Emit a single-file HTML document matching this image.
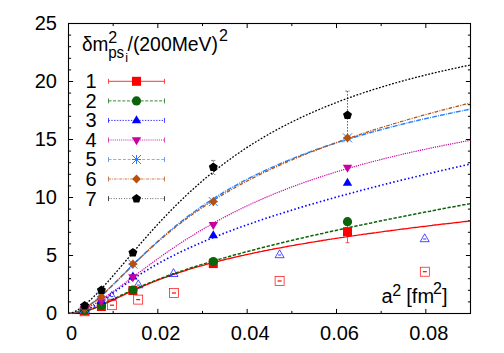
<!DOCTYPE html>
<html><head><meta charset="utf-8"><title>plot</title>
<style>
html,body{margin:0;padding:0;background:#fff;}
body{width:504px;height:353px;overflow:hidden;}
svg text{font-family:"Liberation Sans",sans-serif;fill:#000;}
.t{font-size:20px;}
.s{font-size:16px;}
.ss{font-size:12.5px;}
</style></head><body>
<svg width="504" height="353" viewBox="0 0 504 353" style="display:block">
<rect width="504" height="353" fill="#fff"/>
<defs><clipPath id="cp"><rect x="68.5" y="23.5" width="402" height="290"/></clipPath></defs>
<path d="M68.5 313.5h4.6M470.5 313.5h-4.6M68.5 301.9h2.6M470.5 301.9h-2.6M68.5 290.3h2.6M470.5 290.3h-2.6M68.5 278.7h2.6M470.5 278.7h-2.6M68.5 267.1h2.6M470.5 267.1h-2.6M68.5 255.5h4.6M470.5 255.5h-4.6M68.5 243.9h2.6M470.5 243.9h-2.6M68.5 232.3h2.6M470.5 232.3h-2.6M68.5 220.7h2.6M470.5 220.7h-2.6M68.5 209.1h2.6M470.5 209.1h-2.6M68.5 197.5h4.6M470.5 197.5h-4.6M68.5 185.9h2.6M470.5 185.9h-2.6M68.5 174.3h2.6M470.5 174.3h-2.6M68.5 162.7h2.6M470.5 162.7h-2.6M68.5 151.1h2.6M470.5 151.1h-2.6M68.5 139.5h4.6M470.5 139.5h-4.6M68.5 127.9h2.6M470.5 127.9h-2.6M68.5 116.3h2.6M470.5 116.3h-2.6M68.5 104.7h2.6M470.5 104.7h-2.6M68.5 93.1h2.6M470.5 93.1h-2.6M68.5 81.5h4.6M470.5 81.5h-4.6M68.5 69.9h2.6M470.5 69.9h-2.6M68.5 58.3h2.6M470.5 58.3h-2.6M68.5 46.7h2.6M470.5 46.7h-2.6M68.5 35.1h2.6M470.5 35.1h-2.6M68.5 23.5h4.6M470.5 23.5h-4.6M68.5 313.5v-4.6M68.5 23.5v4.6M113.167 313.5v-2.6M113.167 23.5v2.6M157.833 313.5v-4.6M157.833 23.5v4.6M202.5 313.5v-2.6M202.5 23.5v2.6M247.167 313.5v-4.6M247.167 23.5v4.6M291.833 313.5v-2.6M291.833 23.5v2.6M336.5 313.5v-4.6M336.5 23.5v4.6M381.167 313.5v-2.6M381.167 23.5v2.6M425.833 313.5v-4.6M425.833 23.5v4.6M470.5 313.5v-2.6M470.5 23.5v2.6" stroke="#000" stroke-width="1" fill="none"/>
<rect x="68.5" y="23.5" width="402" height="290" fill="none" stroke="#000" stroke-width="1.1"/>
<g clip-path="url(#cp)" fill="none">
<path d="M68.5 313.5 L70.2 313.5 L71.9 313.4 L73.5 313.3 L75.2 313.2 L76.9 313.0 L78.6 312.7 L80.3 312.4 L82.0 312.1 L83.6 311.7 L85.3 311.3 L87.0 310.8 L88.7 310.3 L90.4 309.7 L92.0 309.1 L93.7 308.5 L95.4 307.9 L97.1 307.2 L98.8 306.5 L100.5 305.8 L102.1 305.0 L103.8 304.3 L105.5 303.5 L107.2 302.7 L108.9 302.0 L110.6 301.2 L112.2 300.4 L113.9 299.6 L115.6 298.8 L117.3 298.0 L119.0 297.2 L120.6 296.4 L122.3 295.6 L124.0 294.8 L125.7 294.0 L127.4 293.2 L129.1 292.4 L130.7 291.6 L132.4 290.9 L134.1 290.1 L135.8 289.3 L137.5 288.6 L139.1 287.9 L140.8 287.1 L142.5 286.4 L144.2 285.7 L145.9 285.0 L147.6 284.3 L149.2 283.6 L150.9 282.9 L152.6 282.2 L154.3 281.5 L156.0 280.9 L157.6 280.2 L159.3 279.6 L161.0 278.9 L162.7 278.3 L164.4 277.7 L166.1 277.1 L167.7 276.5 L169.4 275.9 L171.1 275.3 L172.8 274.7 L174.5 274.1 L176.1 273.5 L177.8 273.0 L179.5 272.4 L181.2 271.9 L182.9 271.3 L184.6 270.8 L186.2 270.3 L187.9 269.7 L189.6 269.2 L191.3 268.7 L193.0 268.2 L194.7 267.7 L196.3 267.2 L198.0 266.7 L199.7 266.2 L201.4 265.8 L203.1 265.3 L204.7 264.8 L206.4 264.4 L208.1 263.9 L209.8 263.5 L211.5 263.0 L213.2 262.6 L214.8 262.1 L216.5 261.7 L218.2 261.3 L219.9 260.8 L221.6 260.4 L223.2 260.0 L224.9 259.6 L226.6 259.2 L228.3 258.8 L230.0 258.4 L231.7 258.0 L233.3 257.6 L235.0 257.2 L236.7 256.8 L238.4 256.4 L240.1 256.0 L241.7 255.6 L243.4 255.3 L245.1 254.9 L246.8 254.5 L248.5 254.2 L250.2 253.8 L251.8 253.5 L253.5 253.1 L255.2 252.7 L256.9 252.4 L258.6 252.0 L260.2 251.7 L261.9 251.4 L263.6 251.0 L265.3 250.7 L267.0 250.4 L268.7 250.0 L270.3 249.7 L272.0 249.4 L273.7 249.0 L275.4 248.7 L277.1 248.4 L278.8 248.1 L280.4 247.8 L282.1 247.5 L283.8 247.1 L285.5 246.8 L287.2 246.5 L288.8 246.2 L290.5 245.9 L292.2 245.6 L293.9 245.3 L295.6 245.0 L297.3 244.7 L298.9 244.4 L300.6 244.1 L302.3 243.9 L304.0 243.6 L305.7 243.3 L307.3 243.0 L309.0 242.7 L310.7 242.4 L312.4 242.1 L314.1 241.9 L315.8 241.6 L317.4 241.3 L319.1 241.0 L320.8 240.8 L322.5 240.5 L324.2 240.2 L325.8 240.0 L327.5 239.7 L329.2 239.4 L330.9 239.2 L332.6 238.9 L334.3 238.7 L335.9 238.4 L337.6 238.1 L339.3 237.9 L341.0 237.6 L342.7 237.4 L344.3 237.1 L346.0 236.9 L347.7 236.6 L349.4 236.4 L351.1 236.1 L352.8 235.9 L354.4 235.6 L356.1 235.4 L357.8 235.2 L359.5 234.9 L361.2 234.7 L362.9 234.4 L364.5 234.2 L366.2 234.0 L367.9 233.7 L369.6 233.5 L371.3 233.3 L372.9 233.0 L374.6 232.8 L376.3 232.6 L378.0 232.3 L379.7 232.1 L381.4 231.9 L383.0 231.6 L384.7 231.4 L386.4 231.2 L388.1 231.0 L389.8 230.8 L391.4 230.5 L393.1 230.3 L394.8 230.1 L396.5 229.9 L398.2 229.7 L399.9 229.4 L401.5 229.2 L403.2 229.0 L404.9 228.8 L406.6 228.6 L408.3 228.4 L409.9 228.1 L411.6 227.9 L413.3 227.7 L415.0 227.5 L416.7 227.3 L418.4 227.1 L420.0 226.9 L421.7 226.7 L423.4 226.5 L425.1 226.3 L426.8 226.1 L428.4 225.9 L430.1 225.7 L431.8 225.5 L433.5 225.2 L435.2 225.0 L436.9 224.8 L438.5 224.6 L440.2 224.4 L441.9 224.2 L443.6 224.0 L445.3 223.9 L447.0 223.7 L448.6 223.5 L450.3 223.3 L452.0 223.1 L453.7 222.9 L455.4 222.7 L457.0 222.5 L458.7 222.3 L460.4 222.1 L462.1 221.9 L463.8 221.7 L465.5 221.5 L467.1 221.3 L468.8 221.2 L470.5 221.0" stroke="#ff0000" stroke-width="1.35"/>
<path d="M68.5 313.5 L70.2 313.5 L71.9 313.5 L73.5 313.4 L75.2 313.2 L76.9 313.0 L78.6 312.8 L80.3 312.5 L82.0 312.1 L83.6 311.7 L85.3 311.2 L87.0 310.7 L88.7 310.1 L90.4 309.5 L92.0 308.9 L93.7 308.2 L95.4 307.5 L97.1 306.8 L98.8 306.0 L100.5 305.2 L102.1 304.5 L103.8 303.7 L105.5 302.9 L107.2 302.0 L108.9 301.2 L110.6 300.4 L112.2 299.6 L113.9 298.8 L115.6 298.0 L117.3 297.2 L119.0 296.3 L120.6 295.5 L122.3 294.7 L124.0 293.9 L125.7 293.2 L127.4 292.4 L129.1 291.6 L130.7 290.8 L132.4 290.1 L134.1 289.3 L135.8 288.6 L137.5 287.9 L139.1 287.1 L140.8 286.4 L142.5 285.7 L144.2 285.0 L145.9 284.3 L147.6 283.6 L149.2 282.9 L150.9 282.3 L152.6 281.6 L154.3 280.9 L156.0 280.3 L157.6 279.6 L159.3 279.0 L161.0 278.3 L162.7 277.7 L164.4 277.1 L166.1 276.5 L167.7 275.8 L169.4 275.2 L171.1 274.6 L172.8 274.0 L174.5 273.5 L176.1 272.9 L177.8 272.3 L179.5 271.7 L181.2 271.1 L182.9 270.6 L184.6 270.0 L186.2 269.5 L187.9 268.9 L189.6 268.3 L191.3 267.8 L193.0 267.3 L194.7 266.7 L196.3 266.2 L198.0 265.7 L199.7 265.1 L201.4 264.6 L203.1 264.1 L204.7 263.6 L206.4 263.1 L208.1 262.6 L209.8 262.1 L211.5 261.6 L213.2 261.1 L214.8 260.6 L216.5 260.1 L218.2 259.6 L219.9 259.1 L221.6 258.6 L223.2 258.1 L224.9 257.7 L226.6 257.2 L228.3 256.7 L230.0 256.2 L231.7 255.8 L233.3 255.3 L235.0 254.8 L236.7 254.4 L238.4 253.9 L240.1 253.5 L241.7 253.0 L243.4 252.6 L245.1 252.1 L246.8 251.7 L248.5 251.2 L250.2 250.8 L251.8 250.3 L253.5 249.9 L255.2 249.5 L256.9 249.0 L258.6 248.6 L260.2 248.2 L261.9 247.7 L263.6 247.3 L265.3 246.9 L267.0 246.5 L268.7 246.1 L270.3 245.6 L272.0 245.2 L273.7 244.8 L275.4 244.4 L277.1 244.0 L278.8 243.6 L280.4 243.2 L282.1 242.7 L283.8 242.3 L285.5 241.9 L287.2 241.5 L288.8 241.1 L290.5 240.7 L292.2 240.3 L293.9 239.9 L295.6 239.5 L297.3 239.1 L298.9 238.7 L300.6 238.3 L302.3 238.0 L304.0 237.6 L305.7 237.2 L307.3 236.8 L309.0 236.4 L310.7 236.0 L312.4 235.6 L314.1 235.3 L315.8 234.9 L317.4 234.5 L319.1 234.1 L320.8 233.7 L322.5 233.4 L324.2 233.0 L325.8 232.6 L327.5 232.2 L329.2 231.9 L330.9 231.5 L332.6 231.1 L334.3 230.8 L335.9 230.4 L337.6 230.0 L339.3 229.7 L341.0 229.3 L342.7 228.9 L344.3 228.6 L346.0 228.2 L347.7 227.8 L349.4 227.5 L351.1 227.1 L352.8 226.8 L354.4 226.4 L356.1 226.0 L357.8 225.7 L359.5 225.3 L361.2 225.0 L362.9 224.6 L364.5 224.3 L366.2 223.9 L367.9 223.6 L369.6 223.2 L371.3 222.9 L372.9 222.5 L374.6 222.2 L376.3 221.8 L378.0 221.5 L379.7 221.1 L381.4 220.8 L383.0 220.5 L384.7 220.1 L386.4 219.8 L388.1 219.4 L389.8 219.1 L391.4 218.8 L393.1 218.4 L394.8 218.1 L396.5 217.7 L398.2 217.4 L399.9 217.1 L401.5 216.7 L403.2 216.4 L404.9 216.1 L406.6 215.7 L408.3 215.4 L409.9 215.1 L411.6 214.7 L413.3 214.4 L415.0 214.1 L416.7 213.8 L418.4 213.4 L420.0 213.1 L421.7 212.8 L423.4 212.5 L425.1 212.1 L426.8 211.8 L428.4 211.5 L430.1 211.2 L431.8 210.8 L433.5 210.5 L435.2 210.2 L436.9 209.9 L438.5 209.5 L440.2 209.2 L441.9 208.9 L443.6 208.6 L445.3 208.3 L447.0 208.0 L448.6 207.6 L450.3 207.3 L452.0 207.0 L453.7 206.7 L455.4 206.4 L457.0 206.1 L458.7 205.7 L460.4 205.4 L462.1 205.1 L463.8 204.8 L465.5 204.5 L467.1 204.2 L468.8 203.9 L470.5 203.6" stroke="#0a640a" stroke-width="1.5" stroke-dasharray="3.4 1.6"/>
<path d="M68.5 313.5 L70.2 313.5 L71.9 313.4 L73.5 313.3 L75.2 313.1 L76.9 312.9 L78.6 312.5 L80.3 312.1 L82.0 311.6 L83.6 311.1 L85.3 310.4 L87.0 309.7 L88.7 308.9 L90.4 308.0 L92.0 307.1 L93.7 306.2 L95.4 305.2 L97.1 304.1 L98.8 303.0 L100.5 301.9 L102.1 300.8 L103.8 299.6 L105.5 298.4 L107.2 297.2 L108.9 296.0 L110.6 294.8 L112.2 293.6 L113.9 292.4 L115.6 291.2 L117.3 289.9 L119.0 288.7 L120.6 287.5 L122.3 286.4 L124.0 285.2 L125.7 284.0 L127.4 282.8 L129.1 281.7 L130.7 280.5 L132.4 279.4 L134.1 278.3 L135.8 277.2 L137.5 276.1 L139.1 275.0 L140.8 273.9 L142.5 272.9 L144.2 271.8 L145.9 270.8 L147.6 269.8 L149.2 268.8 L150.9 267.8 L152.6 266.8 L154.3 265.8 L156.0 264.9 L157.6 263.9 L159.3 263.0 L161.0 262.0 L162.7 261.1 L164.4 260.2 L166.1 259.3 L167.7 258.4 L169.4 257.6 L171.1 256.7 L172.8 255.8 L174.5 255.0 L176.1 254.2 L177.8 253.3 L179.5 252.5 L181.2 251.7 L182.9 250.9 L184.6 250.1 L186.2 249.3 L187.9 248.5 L189.6 247.8 L191.3 247.0 L193.0 246.2 L194.7 245.5 L196.3 244.7 L198.0 244.0 L199.7 243.3 L201.4 242.5 L203.1 241.8 L204.7 241.1 L206.4 240.4 L208.1 239.7 L209.8 239.0 L211.5 238.3 L213.2 237.6 L214.8 237.0 L216.5 236.3 L218.2 235.6 L219.9 234.9 L221.6 234.3 L223.2 233.6 L224.9 233.0 L226.6 232.3 L228.3 231.7 L230.0 231.1 L231.7 230.4 L233.3 229.8 L235.0 229.2 L236.7 228.6 L238.4 227.9 L240.1 227.3 L241.7 226.7 L243.4 226.1 L245.1 225.5 L246.8 224.9 L248.5 224.3 L250.2 223.7 L251.8 223.2 L253.5 222.6 L255.2 222.0 L256.9 221.4 L258.6 220.8 L260.2 220.3 L261.9 219.7 L263.6 219.1 L265.3 218.6 L267.0 218.0 L268.7 217.5 L270.3 216.9 L272.0 216.4 L273.7 215.8 L275.4 215.3 L277.1 214.7 L278.8 214.2 L280.4 213.7 L282.1 213.1 L283.8 212.6 L285.5 212.1 L287.2 211.6 L288.8 211.0 L290.5 210.5 L292.2 210.0 L293.9 209.5 L295.6 209.0 L297.3 208.5 L298.9 207.9 L300.6 207.4 L302.3 206.9 L304.0 206.4 L305.7 205.9 L307.3 205.4 L309.0 204.9 L310.7 204.4 L312.4 204.0 L314.1 203.5 L315.8 203.0 L317.4 202.5 L319.1 202.0 L320.8 201.5 L322.5 201.0 L324.2 200.6 L325.8 200.1 L327.5 199.6 L329.2 199.1 L330.9 198.7 L332.6 198.2 L334.3 197.7 L335.9 197.3 L337.6 196.8 L339.3 196.3 L341.0 195.9 L342.7 195.4 L344.3 194.9 L346.0 194.5 L347.7 194.0 L349.4 193.6 L351.1 193.1 L352.8 192.7 L354.4 192.2 L356.1 191.8 L357.8 191.3 L359.5 190.9 L361.2 190.4 L362.9 190.0 L364.5 189.5 L366.2 189.1 L367.9 188.7 L369.6 188.2 L371.3 187.8 L372.9 187.4 L374.6 186.9 L376.3 186.5 L378.0 186.1 L379.7 185.6 L381.4 185.2 L383.0 184.8 L384.7 184.3 L386.4 183.9 L388.1 183.5 L389.8 183.1 L391.4 182.7 L393.1 182.2 L394.8 181.8 L396.5 181.4 L398.2 181.0 L399.9 180.6 L401.5 180.1 L403.2 179.7 L404.9 179.3 L406.6 178.9 L408.3 178.5 L409.9 178.1 L411.6 177.7 L413.3 177.3 L415.0 176.9 L416.7 176.5 L418.4 176.1 L420.0 175.7 L421.7 175.3 L423.4 174.8 L425.1 174.4 L426.8 174.0 L428.4 173.7 L430.1 173.3 L431.8 172.9 L433.5 172.5 L435.2 172.1 L436.9 171.7 L438.5 171.3 L440.2 170.9 L441.9 170.5 L443.6 170.1 L445.3 169.7 L447.0 169.3 L448.6 168.9 L450.3 168.6 L452.0 168.2 L453.7 167.8 L455.4 167.4 L457.0 167.0 L458.7 166.6 L460.4 166.3 L462.1 165.9 L463.8 165.5 L465.5 165.1 L467.1 164.7 L468.8 164.4 L470.5 164.0" stroke="#0000ff" stroke-width="1.65" stroke-dasharray="1.5 2.3"/>
<path d="M68.5 313.5 L70.2 313.4 L71.9 313.2 L73.5 312.8 L75.2 312.4 L76.9 312.0 L78.6 311.4 L80.3 310.8 L82.0 310.2 L83.6 309.5 L85.3 308.7 L87.0 307.9 L88.7 307.1 L90.4 306.2 L92.0 305.3 L93.7 304.3 L95.4 303.3 L97.1 302.3 L98.8 301.3 L100.5 300.2 L102.1 299.1 L103.8 298.0 L105.5 296.9 L107.2 295.8 L108.9 294.6 L110.6 293.4 L112.2 292.3 L113.9 291.1 L115.6 289.8 L117.3 288.6 L119.0 287.4 L120.6 286.2 L122.3 284.9 L124.0 283.7 L125.7 282.4 L127.4 281.2 L129.1 279.9 L130.7 278.7 L132.4 277.4 L134.1 276.2 L135.8 274.9 L137.5 273.7 L139.1 272.4 L140.8 271.2 L142.5 269.9 L144.2 268.7 L145.9 267.4 L147.6 266.2 L149.2 265.0 L150.9 263.7 L152.6 262.5 L154.3 261.3 L156.0 260.1 L157.6 258.9 L159.3 257.7 L161.0 256.5 L162.7 255.3 L164.4 254.1 L166.1 252.9 L167.7 251.8 L169.4 250.6 L171.1 249.5 L172.8 248.3 L174.5 247.2 L176.1 246.0 L177.8 244.9 L179.5 243.8 L181.2 242.7 L182.9 241.6 L184.6 240.5 L186.2 239.4 L187.9 238.4 L189.6 237.3 L191.3 236.3 L193.0 235.2 L194.7 234.2 L196.3 233.1 L198.0 232.1 L199.7 231.1 L201.4 230.1 L203.1 229.1 L204.7 228.1 L206.4 227.1 L208.1 226.2 L209.8 225.2 L211.5 224.2 L213.2 223.3 L214.8 222.4 L216.5 221.4 L218.2 220.5 L219.9 219.6 L221.6 218.7 L223.2 217.8 L224.9 216.9 L226.6 216.0 L228.3 215.1 L230.0 214.3 L231.7 213.4 L233.3 212.5 L235.0 211.7 L236.7 210.9 L238.4 210.0 L240.1 209.2 L241.7 208.4 L243.4 207.6 L245.1 206.8 L246.8 206.0 L248.5 205.2 L250.2 204.4 L251.8 203.6 L253.5 202.8 L255.2 202.1 L256.9 201.3 L258.6 200.6 L260.2 199.8 L261.9 199.1 L263.6 198.4 L265.3 197.6 L267.0 196.9 L268.7 196.2 L270.3 195.5 L272.0 194.8 L273.7 194.1 L275.4 193.4 L277.1 192.7 L278.8 192.1 L280.4 191.4 L282.1 190.7 L283.8 190.1 L285.5 189.4 L287.2 188.8 L288.8 188.1 L290.5 187.5 L292.2 186.8 L293.9 186.2 L295.6 185.6 L297.3 185.0 L298.9 184.4 L300.6 183.7 L302.3 183.1 L304.0 182.5 L305.7 181.9 L307.3 181.4 L309.0 180.8 L310.7 180.2 L312.4 179.6 L314.1 179.0 L315.8 178.5 L317.4 177.9 L319.1 177.4 L320.8 176.8 L322.5 176.3 L324.2 175.7 L325.8 175.2 L327.5 174.6 L329.2 174.1 L330.9 173.6 L332.6 173.1 L334.3 172.5 L335.9 172.0 L337.6 171.5 L339.3 171.0 L341.0 170.5 L342.7 170.0 L344.3 169.5 L346.0 169.0 L347.7 168.5 L349.4 168.0 L351.1 167.5 L352.8 167.1 L354.4 166.6 L356.1 166.1 L357.8 165.6 L359.5 165.2 L361.2 164.7 L362.9 164.2 L364.5 163.8 L366.2 163.3 L367.9 162.9 L369.6 162.4 L371.3 162.0 L372.9 161.6 L374.6 161.1 L376.3 160.7 L378.0 160.3 L379.7 159.8 L381.4 159.4 L383.0 159.0 L384.7 158.6 L386.4 158.1 L388.1 157.7 L389.8 157.3 L391.4 156.9 L393.1 156.5 L394.8 156.1 L396.5 155.7 L398.2 155.3 L399.9 154.9 L401.5 154.5 L403.2 154.1 L404.9 153.7 L406.6 153.3 L408.3 153.0 L409.9 152.6 L411.6 152.2 L413.3 151.8 L415.0 151.4 L416.7 151.1 L418.4 150.7 L420.0 150.3 L421.7 150.0 L423.4 149.6 L425.1 149.3 L426.8 148.9 L428.4 148.5 L430.1 148.2 L431.8 147.8 L433.5 147.5 L435.2 147.1 L436.9 146.8 L438.5 146.5 L440.2 146.1 L441.9 145.8 L443.6 145.4 L445.3 145.1 L447.0 144.8 L448.6 144.4 L450.3 144.1 L452.0 143.8 L453.7 143.5 L455.4 143.1 L457.0 142.8 L458.7 142.5 L460.4 142.2 L462.1 141.9 L463.8 141.5 L465.5 141.2 L467.1 140.9 L468.8 140.6 L470.5 140.3" stroke="#c800a0" stroke-width="1.2" stroke-dasharray="1.2 1"/>
<path d="M68.5 313.5 L70.2 313.4 L71.9 313.2 L73.5 312.9 L75.2 312.4 L76.9 311.9 L78.6 311.2 L80.3 310.5 L82.0 309.6 L83.6 308.8 L85.3 307.8 L87.0 306.7 L88.7 305.6 L90.4 304.5 L92.0 303.2 L93.7 302.0 L95.4 300.6 L97.1 299.3 L98.8 297.9 L100.5 296.4 L102.1 294.9 L103.8 293.4 L105.5 291.9 L107.2 290.3 L108.9 288.7 L110.6 287.1 L112.2 285.5 L113.9 283.9 L115.6 282.2 L117.3 280.6 L119.0 278.9 L120.6 277.2 L122.3 275.6 L124.0 273.9 L125.7 272.2 L127.4 270.5 L129.1 268.9 L130.7 267.2 L132.4 265.5 L134.1 263.9 L135.8 262.2 L137.5 260.5 L139.1 258.9 L140.8 257.3 L142.5 255.6 L144.2 254.0 L145.9 252.4 L147.6 250.8 L149.2 249.2 L150.9 247.7 L152.6 246.1 L154.3 244.5 L156.0 243.0 L157.6 241.5 L159.3 240.0 L161.0 238.5 L162.7 237.0 L164.4 235.5 L166.1 234.1 L167.7 232.6 L169.4 231.2 L171.1 229.8 L172.8 228.4 L174.5 227.0 L176.1 225.6 L177.8 224.3 L179.5 222.9 L181.2 221.6 L182.9 220.3 L184.6 219.0 L186.2 217.7 L187.9 216.4 L189.6 215.2 L191.3 213.9 L193.0 212.7 L194.7 211.5 L196.3 210.3 L198.0 209.1 L199.7 207.9 L201.4 206.7 L203.1 205.6 L204.7 204.4 L206.4 203.3 L208.1 202.2 L209.8 201.1 L211.5 200.0 L213.2 198.9 L214.8 197.8 L216.5 196.7 L218.2 195.7 L219.9 194.7 L221.6 193.6 L223.2 192.6 L224.9 191.6 L226.6 190.6 L228.3 189.6 L230.0 188.7 L231.7 187.7 L233.3 186.7 L235.0 185.8 L236.7 184.9 L238.4 183.9 L240.1 183.0 L241.7 182.1 L243.4 181.2 L245.1 180.3 L246.8 179.5 L248.5 178.6 L250.2 177.7 L251.8 176.9 L253.5 176.0 L255.2 175.2 L256.9 174.4 L258.6 173.6 L260.2 172.8 L261.9 172.0 L263.6 171.2 L265.3 170.4 L267.0 169.6 L268.7 168.8 L270.3 168.1 L272.0 167.3 L273.7 166.6 L275.4 165.8 L277.1 165.1 L278.8 164.3 L280.4 163.6 L282.1 162.9 L283.8 162.2 L285.5 161.5 L287.2 160.8 L288.8 160.1 L290.5 159.4 L292.2 158.7 L293.9 158.1 L295.6 157.4 L297.3 156.7 L298.9 156.1 L300.6 155.4 L302.3 154.8 L304.0 154.1 L305.7 153.5 L307.3 152.9 L309.0 152.3 L310.7 151.6 L312.4 151.0 L314.1 150.4 L315.8 149.8 L317.4 149.2 L319.1 148.6 L320.8 148.0 L322.5 147.5 L324.2 146.9 L325.8 146.3 L327.5 145.7 L329.2 145.2 L330.9 144.6 L332.6 144.1 L334.3 143.5 L335.9 143.0 L337.6 142.4 L339.3 141.9 L341.0 141.3 L342.7 140.8 L344.3 140.3 L346.0 139.8 L347.7 139.2 L349.4 138.7 L351.1 138.2 L352.8 137.7 L354.4 137.2 L356.1 136.7 L357.8 136.2 L359.5 135.7 L361.2 135.2 L362.9 134.7 L364.5 134.2 L366.2 133.8 L367.9 133.3 L369.6 132.8 L371.3 132.3 L372.9 131.9 L374.6 131.4 L376.3 130.9 L378.0 130.5 L379.7 130.0 L381.4 129.6 L383.0 129.1 L384.7 128.7 L386.4 128.2 L388.1 127.8 L389.8 127.4 L391.4 126.9 L393.1 126.5 L394.8 126.1 L396.5 125.6 L398.2 125.2 L399.9 124.8 L401.5 124.4 L403.2 124.0 L404.9 123.5 L406.6 123.1 L408.3 122.7 L409.9 122.3 L411.6 121.9 L413.3 121.5 L415.0 121.1 L416.7 120.7 L418.4 120.3 L420.0 119.9 L421.7 119.5 L423.4 119.1 L425.1 118.8 L426.8 118.4 L428.4 118.0 L430.1 117.6 L431.8 117.2 L433.5 116.9 L435.2 116.5 L436.9 116.1 L438.5 115.7 L440.2 115.4 L441.9 115.0 L443.6 114.7 L445.3 114.3 L447.0 113.9 L448.6 113.6 L450.3 113.2 L452.0 112.9 L453.7 112.5 L455.4 112.2 L457.0 111.8 L458.7 111.5 L460.4 111.1 L462.1 110.8 L463.8 110.4 L465.5 110.1 L467.1 109.8 L468.8 109.4 L470.5 109.1" stroke="#2080ff" stroke-width="1.45" stroke-dasharray="5 1.1 0.9 1.1"/>
<path d="M68.5 313.5 L70.2 313.4 L71.9 313.3 L73.5 313.0 L75.2 312.5 L76.9 312.0 L78.6 311.4 L80.3 310.7 L82.0 309.9 L83.6 309.0 L85.3 308.1 L87.0 307.0 L88.7 305.9 L90.4 304.7 L92.0 303.5 L93.7 302.2 L95.4 300.9 L97.1 299.5 L98.8 298.0 L100.5 296.6 L102.1 295.1 L103.8 293.5 L105.5 292.0 L107.2 290.4 L108.9 288.8 L110.6 287.2 L112.2 285.5 L113.9 283.9 L115.6 282.2 L117.3 280.6 L119.0 278.9 L120.6 277.2 L122.3 275.5 L124.0 273.9 L125.7 272.2 L127.4 270.5 L129.1 268.9 L130.7 267.2 L132.4 265.6 L134.1 263.9 L135.8 262.3 L137.5 260.6 L139.1 259.0 L140.8 257.4 L142.5 255.8 L144.2 254.2 L145.9 252.7 L147.6 251.1 L149.2 249.6 L150.9 248.0 L152.6 246.5 L154.3 245.0 L156.0 243.5 L157.6 242.0 L159.3 240.5 L161.0 239.1 L162.7 237.7 L164.4 236.2 L166.1 234.8 L167.7 233.4 L169.4 232.0 L171.1 230.7 L172.8 229.3 L174.5 228.0 L176.1 226.6 L177.8 225.3 L179.5 224.0 L181.2 222.7 L182.9 221.4 L184.6 220.2 L186.2 218.9 L187.9 217.7 L189.6 216.5 L191.3 215.2 L193.0 214.0 L194.7 212.9 L196.3 211.7 L198.0 210.5 L199.7 209.4 L201.4 208.2 L203.1 207.1 L204.7 206.0 L206.4 204.9 L208.1 203.8 L209.8 202.7 L211.5 201.6 L213.2 200.5 L214.8 199.5 L216.5 198.4 L218.2 197.4 L219.9 196.4 L221.6 195.4 L223.2 194.3 L224.9 193.3 L226.6 192.4 L228.3 191.4 L230.0 190.4 L231.7 189.5 L233.3 188.5 L235.0 187.6 L236.7 186.6 L238.4 185.7 L240.1 184.8 L241.7 183.9 L243.4 183.0 L245.1 182.1 L246.8 181.2 L248.5 180.3 L250.2 179.4 L251.8 178.6 L253.5 177.7 L255.2 176.9 L256.9 176.0 L258.6 175.2 L260.2 174.3 L261.9 173.5 L263.6 172.7 L265.3 171.9 L267.0 171.1 L268.7 170.3 L270.3 169.5 L272.0 168.7 L273.7 167.9 L275.4 167.2 L277.1 166.4 L278.8 165.6 L280.4 164.9 L282.1 164.1 L283.8 163.4 L285.5 162.7 L287.2 161.9 L288.8 161.2 L290.5 160.5 L292.2 159.8 L293.9 159.0 L295.6 158.3 L297.3 157.6 L298.9 156.9 L300.6 156.2 L302.3 155.6 L304.0 154.9 L305.7 154.2 L307.3 153.5 L309.0 152.8 L310.7 152.2 L312.4 151.5 L314.1 150.9 L315.8 150.2 L317.4 149.6 L319.1 148.9 L320.8 148.3 L322.5 147.6 L324.2 147.0 L325.8 146.4 L327.5 145.8 L329.2 145.1 L330.9 144.5 L332.6 143.9 L334.3 143.3 L335.9 142.7 L337.6 142.1 L339.3 141.5 L341.0 140.9 L342.7 140.3 L344.3 139.7 L346.0 139.1 L347.7 138.5 L349.4 138.0 L351.1 137.4 L352.8 136.8 L354.4 136.3 L356.1 135.7 L357.8 135.1 L359.5 134.6 L361.2 134.0 L362.9 133.5 L364.5 132.9 L366.2 132.4 L367.9 131.8 L369.6 131.3 L371.3 130.7 L372.9 130.2 L374.6 129.7 L376.3 129.1 L378.0 128.6 L379.7 128.1 L381.4 127.5 L383.0 127.0 L384.7 126.5 L386.4 126.0 L388.1 125.5 L389.8 125.0 L391.4 124.5 L393.1 124.0 L394.8 123.5 L396.5 123.0 L398.2 122.5 L399.9 122.0 L401.5 121.5 L403.2 121.0 L404.9 120.5 L406.6 120.0 L408.3 119.5 L409.9 119.0 L411.6 118.5 L413.3 118.1 L415.0 117.6 L416.7 117.1 L418.4 116.6 L420.0 116.2 L421.7 115.7 L423.4 115.2 L425.1 114.8 L426.8 114.3 L428.4 113.9 L430.1 113.4 L431.8 112.9 L433.5 112.5 L435.2 112.0 L436.9 111.6 L438.5 111.1 L440.2 110.7 L441.9 110.2 L443.6 109.8 L445.3 109.4 L447.0 108.9 L448.6 108.5 L450.3 108.0 L452.0 107.6 L453.7 107.2 L455.4 106.7 L457.0 106.3 L458.7 105.9 L460.4 105.5 L462.1 105.0 L463.8 104.6 L465.5 104.2 L467.1 103.8 L468.8 103.4 L470.5 102.9" stroke="#b8500c" stroke-width="1.3" stroke-dasharray="3.6 1.3 1 1.3"/>
<path d="M68.5 313.5 L70.2 313.3 L71.9 312.8 L73.5 312.1 L75.2 311.3 L76.9 310.4 L78.6 309.4 L80.3 308.2 L82.0 307.0 L83.6 305.8 L85.3 304.4 L87.0 303.0 L88.7 301.5 L90.4 300.0 L92.0 298.4 L93.7 296.7 L95.4 295.1 L97.1 293.4 L98.8 291.6 L100.5 289.8 L102.1 288.0 L103.8 286.2 L105.5 284.3 L107.2 282.5 L108.9 280.6 L110.6 278.6 L112.2 276.7 L113.9 274.8 L115.6 272.8 L117.3 270.9 L119.0 268.9 L120.6 266.9 L122.3 264.9 L124.0 263.0 L125.7 261.0 L127.4 259.0 L129.1 257.0 L130.7 255.1 L132.4 253.1 L134.1 251.1 L135.8 249.2 L137.5 247.2 L139.1 245.2 L140.8 243.3 L142.5 241.4 L144.2 239.4 L145.9 237.5 L147.6 235.6 L149.2 233.7 L150.9 231.9 L152.6 230.0 L154.3 228.1 L156.0 226.3 L157.6 224.4 L159.3 222.6 L161.0 220.8 L162.7 219.0 L164.4 217.2 L166.1 215.5 L167.7 213.7 L169.4 212.0 L171.1 210.3 L172.8 208.6 L174.5 206.9 L176.1 205.2 L177.8 203.5 L179.5 201.9 L181.2 200.2 L182.9 198.6 L184.6 197.0 L186.2 195.4 L187.9 193.8 L189.6 192.3 L191.3 190.7 L193.0 189.2 L194.7 187.7 L196.3 186.2 L198.0 184.7 L199.7 183.2 L201.4 181.8 L203.1 180.3 L204.7 178.9 L206.4 177.5 L208.1 176.1 L209.8 174.7 L211.5 173.4 L213.2 172.0 L214.8 170.7 L216.5 169.3 L218.2 168.0 L219.9 166.7 L221.6 165.4 L223.2 164.1 L224.9 162.9 L226.6 161.6 L228.3 160.4 L230.0 159.2 L231.7 158.0 L233.3 156.8 L235.0 155.6 L236.7 154.4 L238.4 153.3 L240.1 152.1 L241.7 151.0 L243.4 149.8 L245.1 148.7 L246.8 147.6 L248.5 146.5 L250.2 145.5 L251.8 144.4 L253.5 143.3 L255.2 142.3 L256.9 141.2 L258.6 140.2 L260.2 139.2 L261.9 138.2 L263.6 137.2 L265.3 136.2 L267.0 135.3 L268.7 134.3 L270.3 133.3 L272.0 132.4 L273.7 131.5 L275.4 130.5 L277.1 129.6 L278.8 128.7 L280.4 127.8 L282.1 126.9 L283.8 126.1 L285.5 125.2 L287.2 124.3 L288.8 123.5 L290.5 122.6 L292.2 121.8 L293.9 121.0 L295.6 120.1 L297.3 119.3 L298.9 118.5 L300.6 117.7 L302.3 116.9 L304.0 116.2 L305.7 115.4 L307.3 114.6 L309.0 113.9 L310.7 113.1 L312.4 112.4 L314.1 111.6 L315.8 110.9 L317.4 110.2 L319.1 109.5 L320.8 108.8 L322.5 108.0 L324.2 107.4 L325.8 106.7 L327.5 106.0 L329.2 105.3 L330.9 104.6 L332.6 104.0 L334.3 103.3 L335.9 102.7 L337.6 102.0 L339.3 101.4 L341.0 100.7 L342.7 100.1 L344.3 99.5 L346.0 98.9 L347.7 98.3 L349.4 97.7 L351.1 97.1 L352.8 96.5 L354.4 95.9 L356.1 95.3 L357.8 94.7 L359.5 94.1 L361.2 93.6 L362.9 93.0 L364.5 92.4 L366.2 91.9 L367.9 91.3 L369.6 90.8 L371.3 90.2 L372.9 89.7 L374.6 89.2 L376.3 88.7 L378.0 88.1 L379.7 87.6 L381.4 87.1 L383.0 86.6 L384.7 86.1 L386.4 85.6 L388.1 85.1 L389.8 84.6 L391.4 84.1 L393.1 83.6 L394.8 83.1 L396.5 82.7 L398.2 82.2 L399.9 81.7 L401.5 81.3 L403.2 80.8 L404.9 80.3 L406.6 79.9 L408.3 79.4 L409.9 79.0 L411.6 78.6 L413.3 78.1 L415.0 77.7 L416.7 77.2 L418.4 76.8 L420.0 76.4 L421.7 76.0 L423.4 75.6 L425.1 75.1 L426.8 74.7 L428.4 74.3 L430.1 73.9 L431.8 73.5 L433.5 73.1 L435.2 72.7 L436.9 72.3 L438.5 71.9 L440.2 71.5 L441.9 71.1 L443.6 70.8 L445.3 70.4 L447.0 70.0 L448.6 69.6 L450.3 69.3 L452.0 68.9 L453.7 68.5 L455.4 68.2 L457.0 67.8 L458.7 67.5 L460.4 67.1 L462.1 66.7 L463.8 66.4 L465.5 66.0 L467.1 65.7 L468.8 65.4 L470.5 65.0" stroke="#000000" stroke-width="1.3" stroke-dasharray="1.8 1.6"/>
</g>
<rect x="80.1" y="306.8" width="9" height="9" fill="none" stroke="#ff0000" stroke-width="0.7"/><path d="M82.6 311.3h4" stroke="#ff0000" stroke-width="1.2"/>
<rect x="107.5" y="300.7" width="9" height="9" fill="none" stroke="#ff0000" stroke-width="0.7"/><path d="M110 305.2h4" stroke="#ff0000" stroke-width="1.2"/>
<rect x="133.7" y="295.1" width="9" height="9" fill="none" stroke="#ff0000" stroke-width="0.7"/><path d="M136.2 299.6h4" stroke="#ff0000" stroke-width="1.2"/>
<rect x="169.5" y="288.5" width="9" height="9" fill="none" stroke="#ff0000" stroke-width="0.7"/><path d="M172 293h4" stroke="#ff0000" stroke-width="1.2"/>
<rect x="275.1" y="276.5" width="9" height="9" fill="none" stroke="#ff0000" stroke-width="0.7"/><path d="M277.6 281h4" stroke="#ff0000" stroke-width="1.2"/>
<rect x="420.3" y="267.2" width="9" height="9" fill="none" stroke="#ff0000" stroke-width="0.7"/><path d="M422.8 271.7h4" stroke="#ff0000" stroke-width="1.2"/>
<path d="M84.6 305.325L80.1 313.2L89.1 313.2Z" fill="none" stroke="#0000ff" stroke-width="0.7"/><path d="M83.1 310.5h3" stroke="#0000ff" stroke-width="0.8"/>
<path d="M111.8 291.425L107.3 299.3L116.3 299.3Z" fill="none" stroke="#0000ff" stroke-width="0.7"/><path d="M110.3 296.6h3" stroke="#0000ff" stroke-width="0.8"/>
<path d="M138.3 279.925L133.8 287.8L142.8 287.8Z" fill="none" stroke="#0000ff" stroke-width="0.7"/><path d="M136.8 285.1h3" stroke="#0000ff" stroke-width="0.8"/>
<path d="M173.5 268.625L169 276.5L178 276.5Z" fill="none" stroke="#0000ff" stroke-width="0.7"/><path d="M172 273.8h3" stroke="#0000ff" stroke-width="0.8"/>
<path d="M279.6 249.825L275.1 257.7L284.1 257.7Z" fill="none" stroke="#0000ff" stroke-width="0.7"/><path d="M278.1 255h3" stroke="#0000ff" stroke-width="0.8"/>
<path d="M424.7 233.825L420.2 241.7L429.2 241.7Z" fill="none" stroke="#0000ff" stroke-width="0.7"/><path d="M423.2 239h3" stroke="#0000ff" stroke-width="0.8"/>
<path d="M347.5 220.7V242.7M345.5 220.7h4M345.5 242.7h4" stroke="#ff0000" stroke-width="0.65" fill="none"/>
<path d="M347.5 91.1V138.1M345.5 91.1h4M345.5 138.1h4" stroke="#000" stroke-width="0.65" fill="none" stroke-dasharray="1.5 1.5"/>
<path d="M213.3 160.4V174.4M211.3 160.4h4M211.3 174.4h4" stroke="#000" stroke-width="0.65" fill="none" stroke-dasharray="1.5 1.5"/>
<rect x="80.1" y="306.3" width="9" height="9" fill="#ff0000"/>
<rect x="96.9" y="302" width="9" height="9" fill="#ff0000"/>
<rect x="128.4" y="286" width="9" height="9" fill="#ff0000"/>
<rect x="208.8" y="259.1" width="9" height="9" fill="#ff0000"/>
<rect x="343" y="227.2" width="9" height="9" fill="#ff0000"/>
<circle cx="84.6" cy="310.3" r="4.6" fill="#0a640a"/>
<circle cx="101.4" cy="305.5" r="4.6" fill="#0a640a"/>
<circle cx="132.9" cy="290" r="4.6" fill="#0a640a"/>
<circle cx="213.3" cy="261.6" r="4.6" fill="#0a640a"/>
<circle cx="347.5" cy="221.7" r="4.6" fill="#0a640a"/>
<path d="M84.6 304.13L79.9 312.12L89.3 312.12Z" fill="#0000ff"/>
<path d="M101.4 295.83L96.7 303.82L106.1 303.82Z" fill="#0000ff"/>
<path d="M132.9 271.53L128.2 279.52L137.6 279.52Z" fill="#0000ff"/>
<path d="M213.3 230.23L208.6 238.22L218 238.22Z" fill="#0000ff"/>
<path d="M347.5 177.73L342.8 185.72L352.2 185.72Z" fill="#0000ff"/>
<path d="M84.6 314.17L79.9 306.18L89.3 306.18Z" fill="#c800a0"/>
<path d="M101.4 306.37L96.7 298.38L106.1 298.38Z" fill="#c800a0"/>
<path d="M132.9 282.27L128.2 274.28L137.6 274.28Z" fill="#c800a0"/>
<path d="M213.3 230.07L208.6 222.08L218 222.08Z" fill="#c800a0"/>
<path d="M347.5 172.77L342.8 164.78L352.2 164.78Z" fill="#c800a0"/>
<path d="M80.1 308.5h9M84.6 304v9M80.1 304l9 9M80.1 313l9 -9" stroke="#2080ff" stroke-width="1" fill="none"/>
<path d="M96.9 296.8h9M101.4 292.3v9M96.9 292.3l9 9M96.9 301.3l9 -9" stroke="#2080ff" stroke-width="1" fill="none"/>
<path d="M128.4 264.1h9M132.9 259.6v9M128.4 259.6l9 9M128.4 268.6l9 -9" stroke="#2080ff" stroke-width="1" fill="none"/>
<path d="M208.8 201.6h9M213.3 197.1v9M208.8 197.1l9 9M208.8 206.1l9 -9" stroke="#2080ff" stroke-width="1" fill="none"/>
<path d="M343 137.9h9M347.5 133.4v9M343 133.4l9 9M343 142.4l9 -9" stroke="#2080ff" stroke-width="1" fill="none"/>
<path d="M84.6 304.1L89 308.5L84.6 312.9L80.2 308.5Z" fill="#b8500c"/>
<path d="M101.4 292.4L105.8 296.8L101.4 301.2L97 296.8Z" fill="#b8500c"/>
<path d="M132.9 259.7L137.3 264.1L132.9 268.5L128.5 264.1Z" fill="#b8500c"/>
<path d="M213.3 197.2L217.7 201.6L213.3 206L208.9 201.6Z" fill="#b8500c"/>
<path d="M347.5 133.5L351.9 137.9L347.5 142.3L343.1 137.9Z" fill="#b8500c"/>
<path d="M84.60 301.10 L89.07 304.35 L87.36 309.60 L81.84 309.60 L80.13 304.35 Z" fill="#000"/>
<path d="M101.40 285.50 L105.87 288.75 L104.16 294.00 L98.64 294.00 L96.93 288.75 Z" fill="#000"/>
<path d="M132.90 248.00 L137.37 251.25 L135.66 256.50 L130.14 256.50 L128.43 251.25 Z" fill="#000"/>
<path d="M213.30 162.60 L217.77 165.85 L216.06 171.10 L210.54 171.10 L208.83 165.85 Z" fill="#000"/>
<path d="M347.50 110.40 L351.97 113.65 L350.26 118.90 L344.74 118.90 L343.03 113.65 Z" fill="#000"/>
<path d="M108.5 81.3H164.5" stroke="#ff0000" stroke-width="0.8" fill="none"/>
<path d="M108.5 78.8v5M164.5 78.8v5" stroke="#ff0000" stroke-width="0.7" fill="none"/>
<rect x="132" y="76.8" width="9" height="9" fill="#ff0000"/>
<text x="96.6" y="88.2" text-anchor="end" class="t">1</text>
<path d="M108.5 100.9H164.5" stroke="#0a640a" stroke-width="0.8" fill="none" stroke-dasharray="3 1.6"/>
<path d="M108.5 98.4v5M164.5 98.4v5" stroke="#0a640a" stroke-width="0.7" fill="none"/>
<circle cx="136.5" cy="100.9" r="4.6" fill="#0a640a"/>
<text x="96.6" y="107.8" text-anchor="end" class="t">2</text>
<path d="M108.5 120.4H164.5" stroke="#0000ff" stroke-width="0.8" fill="none" stroke-dasharray="1.4 1.4"/>
<path d="M108.5 117.9v5M164.5 117.9v5" stroke="#0000ff" stroke-width="0.7" fill="none"/>
<path d="M136.5 115.23L131.8 123.22L141.2 123.22Z" fill="#0000ff"/>
<text x="96.6" y="127.3" text-anchor="end" class="t">3</text>
<path d="M108.5 140H164.5" stroke="#c800a0" stroke-width="0.8" fill="none" stroke-dasharray="1.1 1"/>
<path d="M108.5 137.5v5M164.5 137.5v5" stroke="#c800a0" stroke-width="0.7" fill="none"/>
<path d="M136.5 145.17L131.8 137.18L141.2 137.18Z" fill="#c800a0"/>
<text x="96.6" y="146.9" text-anchor="end" class="t">4</text>
<path d="M108.5 159.5H164.5" stroke="#2080ff" stroke-width="0.6" fill="none" stroke-dasharray="3 1.8"/>
<path d="M108.5 157v5M164.5 157v5" stroke="#2080ff" stroke-width="0.7" fill="none"/>
<path d="M132 159.5h9M136.5 155v9M132 155l9 9M132 164l9 -9" stroke="#2080ff" stroke-width="1" fill="none"/>
<text x="96.6" y="166.4" text-anchor="end" class="t">5</text>
<path d="M108.5 179H164.5" stroke="#b8500c" stroke-width="0.75" fill="none" stroke-dasharray="2.6 1 0.8 1"/>
<path d="M108.5 176.5v5M164.5 176.5v5" stroke="#b8500c" stroke-width="0.7" fill="none"/>
<path d="M136.5 174.6L140.9 179L136.5 183.4L132.1 179Z" fill="#b8500c"/>
<text x="96.6" y="185.9" text-anchor="end" class="t">6</text>
<path d="M108.5 198.6H164.5" stroke="#000" stroke-width="0.6" fill="none" stroke-dasharray="1 1.2 1 2"/>
<path d="M108.5 196.1v5M164.5 196.1v5" stroke="#000" stroke-width="0.7" fill="none"/>
<path d="M136.50 193.90 L140.97 197.15 L139.26 202.40 L133.74 202.40 L132.03 197.15 Z" fill="#000"/>
<text x="96.6" y="205.5" text-anchor="end" class="t">7</text>
<text x="57" y="320.3" text-anchor="end" class="t">0</text>
<text x="57" y="262.3" text-anchor="end" class="t">5</text>
<text x="57" y="204.3" text-anchor="end" class="t">10</text>
<text x="57" y="146.3" text-anchor="end" class="t">15</text>
<text x="57" y="88.3" text-anchor="end" class="t">20</text>
<text x="57" y="30.3" text-anchor="end" class="t">25</text>
<text x="71.5" y="339.9" text-anchor="middle" class="t">0</text>
<text x="160.833" y="339.9" text-anchor="middle" class="t">0.02</text>
<text x="250.167" y="339.9" text-anchor="middle" class="t">0.04</text>
<text x="339.5" y="339.9" text-anchor="middle" class="t">0.06</text>
<text x="428.833" y="339.9" text-anchor="middle" class="t">0.08</text>
<text x="82" y="51.3" class="t" textLength="26.4" lengthAdjust="spacingAndGlyphs">δm</text>
<text x="108.2" y="42.7" class="s">2</text>
<text x="108.2" y="57.8" class="s" textLength="16" lengthAdjust="spacingAndGlyphs">ps</text>
<text x="125.2" y="61.8" class="ss">i</text>
<text x="127.5" y="51.3" class="t" textLength="90.5" lengthAdjust="spacingAndGlyphs">/(200MeV)</text>
<text x="219" y="40.5" class="s">2</text>
<text x="381.5" y="302.7" class="t">a</text>
<text x="392.2" y="295.8" class="s">2</text>
<text x="406.3" y="302.7" class="t">[fm</text>
<text x="433" y="293.8" class="s">2</text>
<text x="442" y="302.7" class="t">]</text>
</svg>
</body></html>
